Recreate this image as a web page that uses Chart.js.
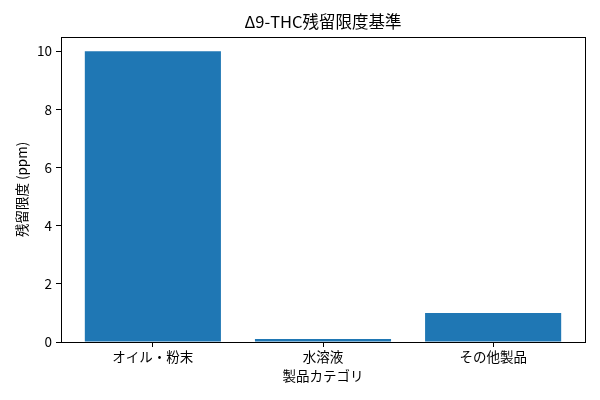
<!DOCTYPE html>
<html>
<head>
<meta charset="utf-8">
<script src="https://cdn.jsdelivr.net/npm/chart.js@4/dist/chart.umd.min.js"></script>
<style>
html,body{margin:0;padding:0;background:#fff;}
#wrap{width:600px;height:400px;}
</style>
</head>
<body>
<div id="wrap"><canvas id="c" width="600" height="400"></canvas></div>
<script>
const categories = ["オイル・粉末", "水溶液", "その他製品"];
const limits = [10, 0.1, 1];
const yTicks = [0, 2, 4, 6, 8, 10];
const titleText = "Δ9-THC残留限度基準";
const xTitle = "製品カテゴリ";
const yTitle = "残留限度 (ppm)";

const FONT = '"Noto Sans CJK JP", "DejaVu Sans", sans-serif';

const framePlugin = {
  id: 'frame',
  afterDatasetsDraw(chart) {
    const a = chart.chartArea, ctx = chart.ctx;
    ctx.save();
    ctx.strokeStyle = '#000';
    ctx.lineWidth = 1;
    ctx.strokeRect(Math.round(a.left) + 0.5, Math.round(a.top) + 0.5,
      Math.round(a.right - a.left), Math.round(a.bottom - a.top));
    ctx.restore();
  }
};

new Chart(document.getElementById('c'), {
  type: 'bar',
  data: {
    datasets: [{
      data: categories.map((c, i) => ({x: i, y: limits[i]})),
      backgroundColor: '#1f77b4',
      borderWidth: 0,
      inflateAmount: 0,
      barPercentage: 0.8,
      categoryPercentage: 1.0
    }]
  },
  plugins: [framePlugin],
  options: {
    responsive: false,
    animation: false,
    layout: {padding: {left: 0, right: 15, top: 0, bottom: 0}},
    plugins: {
      legend: {display: false},
      tooltip: {enabled: false},
      title: {
        display: true,
        fullSize: false,
        text: titleText,
        color: '#000',
        font: {family: FONT, size: 16.5, weight: 'normal'},
        padding: {top: 12, bottom: 5}
      }
    },
    scales: {
      x: {
        type: 'linear',
        offset: false,
        min: -0.54,
        max: 2.54,
        afterBuildTicks(scale) {
          scale.ticks = categories.map((c, i) => ({value: i}));
        },
        afterFit(scale) { scale.height = 58; },
        ticks: {
          color: '#000',
          font: {family: FONT, size: 13.5},
          padding: 2,
          maxRotation: 0,
          autoSkip: false,
          callback: (v) => categories[v]
        },
        grid: {display: true, offset: false, drawOnChartArea: false, drawTicks: true, tickLength: 5, color: '#000'},
        border: {display: false},
        title: {
          display: true,
          text: xTitle,
          color: '#000',
          font: {family: FONT, size: 13.5},
          padding: {top: 0, bottom: 16}
        }
      },
      y: {
        type: 'linear',
        min: 0,
        max: 10.5,
        afterBuildTicks(scale) {
          scale.ticks = yTicks.map(v => ({value: v}));
        },
        afterFit(scale) { scale.width = 61; },
        ticks: {
          color: '#000',
          font: {family: FONT, size: 13.5},
          padding: 4
        },
        grid: {display: true, drawOnChartArea: false, drawTicks: true, tickLength: 5, color: '#000'},
        border: {display: false},
        title: {
          display: true,
          text: yTitle,
          color: '#000',
          font: {family: FONT, size: 13.5},
          padding: {top: 14, bottom: 0}
        }
      }
    }
  }
});
</script>
</body>
</html>
